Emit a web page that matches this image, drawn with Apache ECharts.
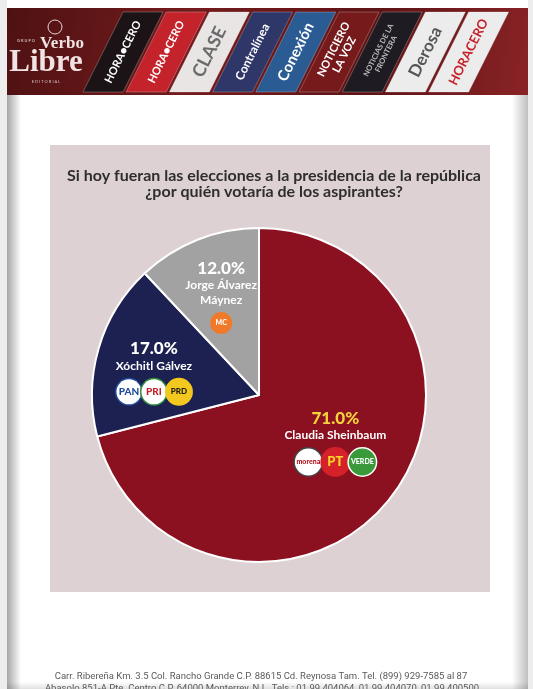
<!DOCTYPE html>
<html><head><meta charset="utf-8">
<script src="https://cdn.jsdelivr.net/npm/echarts@6/dist/echarts.min.js"></script>
<style>html,body{margin:0;padding:0;background:#ededed}#c{width:533px;height:689px}</style>
</head><body><div id="c"></div>
<script>
// ---- data ----
const candidates = ['Claudia Sheinbaum', 'Xóchitl Gálvez', 'Jorge Álvarez Máynez'];
const shares = [71.0, 17.0, 12.0];
const partyLogos = [['morena', 'PT', 'VERDE'], ['PAN', 'PRI', 'PRD'], ['MC']];
const titleLines = ['Si hoy fueran las elecciones a la presidencia de la república', '¿por quién votaría de los aspirantes?'];
const mediaOutlets = ['HORA●CERO', 'HORA●CERO', 'CLASE', 'Contralínea', 'Conexión', 'NOTICIERO\nLA VOZ', 'NOTICIAS DE LA\nFRONTERA', 'Derosa', 'HORACERO'];
const footerLines = [
  'Carr. Ribereña Km. 3.5 Col. Rancho Grande C.P. 88615 Cd. Reynosa Tam. Tel. (899) 929-7585 al 87',
  'Abasolo 851-A Pte. Centro C.P. 64000 Monterrey, N.L. Tels.: 01 99 404064, 01 99 404070, 01 99 400500'
];

// ---- styles ----
const SANS = 'Lato, "Noto Sans", sans-serif';
const sliceColors = ['#8b1020', '#1c2152', '#a2a2a2'];
const pctColors = ['#f4d23e', '#ffffff', '#ffffff'];
const tileFill = ['#1b1315', '#c4232b', '#e9e5e5', '#2f3768', '#2b5b93', '#761a1c', '#1f1b22', '#ececec', '#ececec'];
const tileText = ['#ffffff', '#ffffff', '#6a6a6a', '#ffffff', '#ffffff', '#ffffff', '#bdbdbd', '#555555', '#c4232b'];
const tileFont = [11, 11, 18, 12, 15, 11, 7.5, 17, 13];

const logoStyle = {
  morena: {bg: '#ffffff', fg: '#b3121c', border: '#444', size: 27, fs: 7},
  PT: {bg: '#d4212a', fg: '#ffd52a', border: '#d4212a', size: 27, fs: 13},
  VERDE: {bg: '#3a9a3a', fg: '#ffffff', border: '#ffffff', size: 27, fs: 7},
  PAN: {bg: '#ffffff', fg: '#1f4a9a', border: '#1f4a9a', size: 25, fs: 10},
  PRI: {bg: '#ffffff', fg: '#c4232b', border: '#2f8a3a', size: 25, fs: 10},
  PRD: {bg: '#f2c81e', fg: '#1a1a1a', border: '#f2c81e', size: 25, fs: 8},
  MC: {bg: '#f07a2a', fg: '#ffffff', border: '#f07a2a', size: 19, fs: 7}
};
const rich = {
  pct: {fontFamily: SANS, fontWeight: 900, fontSize: 17, lineHeight: 19},
  nm: {fontFamily: SANS, fontWeight: 'bold', fontSize: 12, lineHeight: 15, color: '#ffffff'},
  gap: {height: 4, lineHeight: 4}
};
Object.keys(logoStyle).forEach(k => {
  const s = logoStyle[k];
  rich['lg_' + k] = {
    backgroundColor: s.bg, color: s.fg, borderColor: s.border, borderWidth: 1.5,
    width: s.size, height: s.size, borderRadius: s.size / 2, align: 'center',
    fontFamily: SANS, fontWeight: 900, fontSize: s.fs, lineHeight: s.size + 4
  };
});
pctColors.forEach((c, i) => { rich['pct' + i] = Object.assign({}, rich.pct, {color: c}); });

function labelText(p) {
  const i = p.dataIndex;
  const words = candidates[i].split(' ');
  const lines = [words.slice(0, 2).join(' ')];
  if (words.length > 2) lines.push(words.slice(2).join(' '));
  return '{pct' + i + '|' + shares[i].toFixed(1) + '%}\n' +
    lines.map(l => '{nm|' + l + '}').join('\n') + '\n{gap|}\n' +
    partyLogos[i].map(l => '{lg_' + l + '|' + l + '}').join('');
}
const labelShift = [[8, -5], [-22, 2], [-6, -18]];

// ---- decorative graphics ----
const g = [];
g.push({type: 'rect', shape: {x: 7, y: 0, width: 521, height: 689}, style: {fill: '#ffffff'}, z: -10});
g.push({type: 'rect', shape: {x: 7, y: 95, width: 14, height: 594},
  style: {fill: new echarts.graphic.LinearGradient(0, 0, 1, 0, [{offset: 0, color: 'rgba(0,0,0,0.35)'}, {offset: 1, color: 'rgba(0,0,0,0)'}])}, z: -9});
g.push({type: 'rect', shape: {x: 512, y: 95, width: 16, height: 594},
  style: {fill: new echarts.graphic.LinearGradient(0, 0, 1, 0, [{offset: 0, color: 'rgba(0,0,0,0)'}, {offset: 1, color: 'rgba(0,0,0,0.25)'}])}, z: -9});
g.push({type: 'rect', shape: {x: 7, y: 682, width: 521, height: 7},
  style: {fill: new echarts.graphic.LinearGradient(0, 0, 0, 1, [{offset: 0, color: 'rgba(0,0,0,0)'}, {offset: 1, color: 'rgba(0,0,0,0.12)'}])}, z: -9});
// banner
g.push({type: 'rect', shape: {x: 7, y: 8, width: 521, height: 87},
  style: {fill: new echarts.graphic.LinearGradient(0, 0, 1, 1, [{offset: 0, color: '#4e1112'}, {offset: 0.35, color: '#741b1d'}, {offset: 0.7, color: '#5e1416'}, {offset: 1, color: '#8a2326'}])}, z: -5});
// publisher logo
g.push({type: 'text', x: 17, y: 39, style: {text: 'G R U P O', fill: '#e9d9da', font: '4px ' + SANS}});
g.push({type: 'text', x: 62, y: 44, style: {text: 'Verbo', fill: '#f1e3e4', font: 'bold 17px "Liberation Serif", serif', align: 'center', verticalAlign: 'middle'}});
g.push({type: 'text', x: 46, y: 63, style: {text: 'Libre', fill: '#f1e3e4', font: 'bold 31px "Liberation Serif", serif', align: 'center', verticalAlign: 'middle'}});
g.push({type: 'text', x: 46, y: 80, style: {text: 'E D I T O R I A L', fill: '#d9c5c6', font: '4px ' + SANS, align: 'center'}});
g.push({type: 'circle', shape: {cx: 55, cy: 27, r: 7}, style: {fill: 'none', stroke: '#e8d6d7', lineWidth: 1}});
// media tiles
mediaOutlets.forEach((name, i) => {
  const bl = 83 + 43.2 * i;
  g.push({type: 'polygon', shape: {points: [[bl, 92], [bl + 40, 92], [bl + 80, 12], [bl + 40, 12]]},
    style: {fill: tileFill[i], stroke: 'rgba(255,255,255,0.25)', lineWidth: 1}});
  g.push({type: 'text', x: bl + 40, y: 52, rotation: 1.107,
    style: {text: name, fill: tileText[i], font: 'bold ' + tileFont[i] + 'px ' + SANS, align: 'center', verticalAlign: 'middle', lineHeight: tileFont[i] + 1}});
});
// footer
g.push({type: 'text', x: 261, y: 677, style: {text: footerLines[0], fill: '#5a5a5a', font: '9.5px Roboto, sans-serif', align: 'center', verticalAlign: 'middle'}});
g.push({type: 'text', x: 262, y: 689, style: {text: footerLines[1], fill: '#5a5a5a', font: '9.5px Roboto, sans-serif', align: 'center', verticalAlign: 'middle'}});
// chart panel
g.push({type: 'rect', shape: {x: 50, y: 145, width: 440, height: 447}, style: {fill: '#ddd1d3'}, z: -4});

const chart = echarts.init(document.getElementById('c'), null, {renderer: 'canvas'});
chart.setOption({
  backgroundColor: 'transparent',
  animation: false,
  title: {
    text: titleLines.join('\n'), left: 269, top: 163, textAlign: 'center',
    textStyle: {fontFamily: SANS, fontWeight: 'bold', fontSize: 16, lineHeight: 16, color: '#2e2e2e'}
  },
  graphic: g,
  series: [{
    type: 'pie',
    center: [259, 395],
    radius: 167,
    startAngle: 90,
    clockwise: true,
    itemStyle: {borderColor: '#ffffff', borderWidth: 2},
    label: {position: 'inside', formatter: labelText, rich: rich, align: 'center'},
    labelLine: {show: false},
    labelLayout: p => ({dx: labelShift[p.dataIndex][0], dy: labelShift[p.dataIndex][1]}),
    emphasis: {disabled: true},
    data: candidates.map((c, i) => ({name: c, value: shares[i], itemStyle: {color: sliceColors[i]}}))
  }]
});
</script></body></html>
